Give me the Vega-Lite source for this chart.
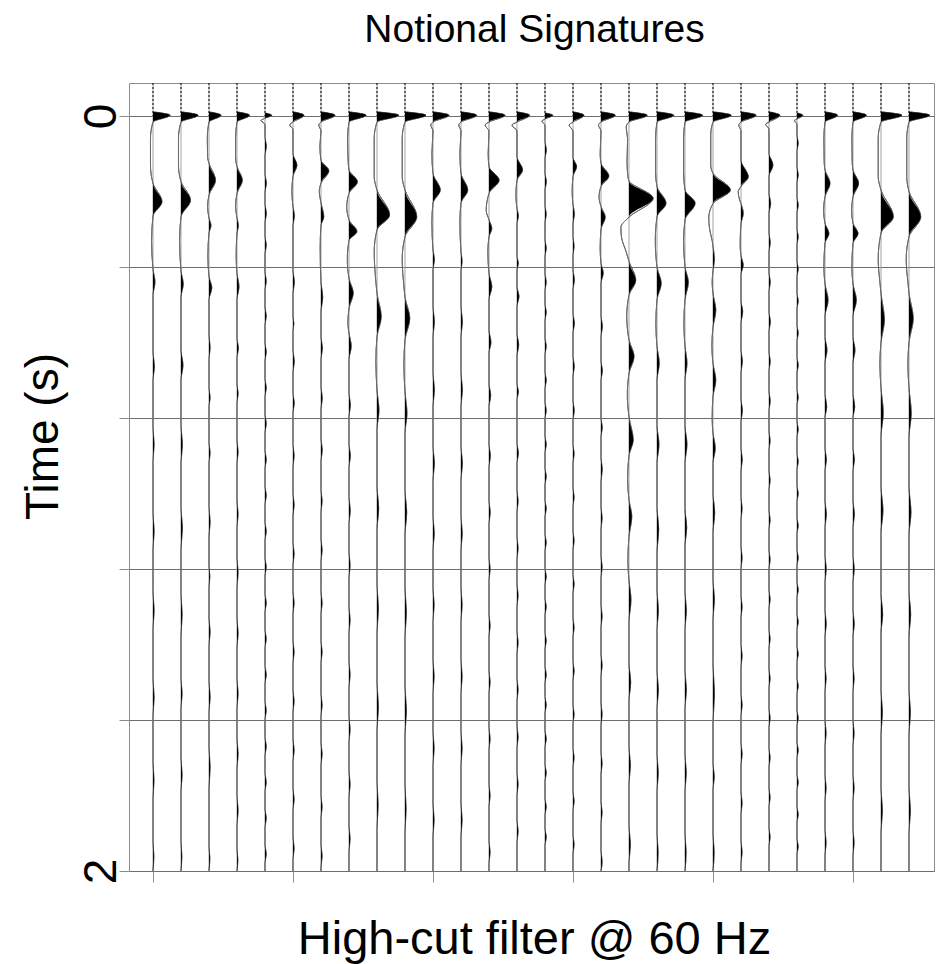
{
"$schema":"https://vega.github.io/schema/vega-lite/v6.json",
"width":805,"height":788,
"autosize":{"type":"none"},
"padding":{"left":129,"top":83,"right":12,"bottom":93},
"background":"white",
"config":{"font":"Liberation Sans","view":{"stroke":"#8c8c8c","strokeWidth":1},"axis":{"labelFont":"Liberation Sans","titleFont":"Liberation Sans"}},
"title":{"text":"Notional Signatures","fontSize":39,"fontWeight":"normal","font":"Liberation Sans","color":"black","anchor":"middle","frame":"group","baseline":"alphabetic","offset":2,"dx":3},
"datasets":{
"tr":[{"k":1},{"k":2},{"k":3},{"k":4},{"k":5},{"k":6},{"k":7},{"k":8},{"k":9},{"k":10},{"k":11},{"k":12},{"k":13},{"k":14},{"k":15},{"k":16},{"k":17},{"k":18},{"k":19},{"k":20},{"k":21},{"k":22},{"k":23},{"k":24},{"k":25},{"k":26},{"k":27},{"k":28}],
"w":[
{"k":1,"t":-0.011,"a":0},{"k":1,"t":-0.002,"a":0.61},{"k":1,"t":0.016,"a":0},{"k":1,"t":0.06,"a":-0.09},{"k":1,"t":0.13,"a":-0.09},{"k":1,"t":0.178,"a":0},{"k":1,"t":0.227,"a":0.32},{"k":1,"t":0.265,"a":0},{"k":1,"t":0.33,"a":-0.05},{"k":1,"t":0.405,"a":0},{"k":1,"t":0.44,"a":0.07},{"k":1,"t":0.475,"a":0},{"k":1,"t":0.625,"a":0},{"k":1,"t":0.664,"a":0.05},{"k":1,"t":0.7,"a":0},{"k":1,"t":0.825,"a":0},{"k":1,"t":0.87,"a":0.04},{"k":1,"t":0.915,"a":0},{"k":1,"t":1.05,"a":0},{"k":1,"t":1.1,"a":0.04},{"k":1,"t":1.15,"a":0},{"k":1,"t":1.26,"a":0},{"k":1,"t":1.31,"a":0.04},{"k":1,"t":1.36,"a":0},{"k":1,"t":1.49,"a":0},{"k":1,"t":1.54,"a":0.04},{"k":1,"t":1.59,"a":0},{"k":1,"t":1.71,"a":0},{"k":1,"t":1.76,"a":0.035},{"k":1,"t":1.81,"a":0},{"k":1,"t":1.92,"a":0},{"k":1,"t":1.96,"a":0.03},{"k":1,"t":2.0,"a":0},
{"k":2,"t":-0.011,"a":0},{"k":2,"t":-0.002,"a":0.61},{"k":2,"t":0.016,"a":0},{"k":2,"t":0.06,"a":-0.09},{"k":2,"t":0.13,"a":-0.09},{"k":2,"t":0.174,"a":0},{"k":2,"t":0.223,"a":0.34},{"k":2,"t":0.267,"a":0},{"k":2,"t":0.33,"a":-0.05},{"k":2,"t":0.41,"a":0},{"k":2,"t":0.445,"a":0.08},{"k":2,"t":0.48,"a":0},{"k":2,"t":0.62,"a":0},{"k":2,"t":0.66,"a":0.07},{"k":2,"t":0.7,"a":0},{"k":2,"t":0.82,"a":0},{"k":2,"t":0.87,"a":0.05},{"k":2,"t":0.92,"a":0},{"k":2,"t":1.04,"a":0},{"k":2,"t":1.09,"a":0.05},{"k":2,"t":1.15,"a":0},{"k":2,"t":1.265,"a":0},{"k":2,"t":1.32,"a":0.04},{"k":2,"t":1.38,"a":0},{"k":2,"t":1.49,"a":0},{"k":2,"t":1.53,"a":0.04},{"k":2,"t":1.57,"a":0},{"k":2,"t":1.7,"a":0},{"k":2,"t":1.745,"a":0.04},{"k":2,"t":1.79,"a":0},{"k":2,"t":1.92,"a":0},{"k":2,"t":1.96,"a":0.03},{"k":2,"t":2.0,"a":0},
{"k":3,"t":-0.011,"a":0},{"k":3,"t":-0.002,"a":0.43},{"k":3,"t":0.016,"a":0},{"k":3,"t":0.06,"a":-0.06},{"k":3,"t":0.11,"a":-0.05},{"k":3,"t":0.125,"a":0},{"k":3,"t":0.17,"a":0.23},{"k":3,"t":0.21,"a":0},{"k":3,"t":0.24,"a":-0.05},{"k":3,"t":0.27,"a":0},{"k":3,"t":0.29,"a":0.07},{"k":3,"t":0.31,"a":0},{"k":3,"t":0.37,"a":-0.04},{"k":3,"t":0.425,"a":0},{"k":3,"t":0.455,"a":0.1},{"k":3,"t":0.487,"a":0},{"k":3,"t":0.58,"a":0},{"k":3,"t":0.613,"a":0.04},{"k":3,"t":0.646,"a":0},{"k":3,"t":0.72,"a":0},{"k":3,"t":0.746,"a":0.04},{"k":3,"t":0.77,"a":0},{"k":3,"t":0.865,"a":0},{"k":3,"t":0.893,"a":0.04},{"k":3,"t":0.92,"a":0},{"k":3,"t":1.035,"a":0},{"k":3,"t":1.075,"a":0.04},{"k":3,"t":1.115,"a":0},{"k":3,"t":1.19,"a":0},{"k":3,"t":1.22,"a":0.03},{"k":3,"t":1.25,"a":0},{"k":3,"t":1.33,"a":0},{"k":3,"t":1.366,"a":0.04},{"k":3,"t":1.405,"a":0},{"k":3,"t":1.495,"a":0},{"k":3,"t":1.54,"a":0.04},{"k":3,"t":1.58,"a":0},{"k":3,"t":1.67,"a":0},{"k":3,"t":1.725,"a":0.04},{"k":3,"t":1.785,"a":0},{"k":3,"t":1.935,"a":0},{"k":3,"t":1.965,"a":0.03},{"k":3,"t":2.0,"a":0},
{"k":4,"t":-0.011,"a":0},{"k":4,"t":-0.002,"a":0.45},{"k":4,"t":0.016,"a":0},{"k":4,"t":0.06,"a":-0.05},{"k":4,"t":0.11,"a":-0.05},{"k":4,"t":0.134,"a":0},{"k":4,"t":0.17,"a":0.19},{"k":4,"t":0.205,"a":0},{"k":4,"t":0.24,"a":-0.05},{"k":4,"t":0.27,"a":0},{"k":4,"t":0.29,"a":0.05},{"k":4,"t":0.31,"a":0},{"k":4,"t":0.37,"a":-0.03},{"k":4,"t":0.417,"a":0},{"k":4,"t":0.452,"a":0.07},{"k":4,"t":0.487,"a":0},{"k":4,"t":0.59,"a":0},{"k":4,"t":0.615,"a":0.05},{"k":4,"t":0.64,"a":0},{"k":4,"t":0.71,"a":0},{"k":4,"t":0.735,"a":0.04},{"k":4,"t":0.76,"a":0},{"k":4,"t":0.858,"a":0},{"k":4,"t":0.89,"a":0.04},{"k":4,"t":0.92,"a":0},{"k":4,"t":1.02,"a":0},{"k":4,"t":1.055,"a":0.04},{"k":4,"t":1.09,"a":0},{"k":4,"t":1.17,"a":0},{"k":4,"t":1.21,"a":0.04},{"k":4,"t":1.25,"a":0},{"k":4,"t":1.33,"a":0},{"k":4,"t":1.37,"a":0.04},{"k":4,"t":1.41,"a":0},{"k":4,"t":1.49,"a":0},{"k":4,"t":1.53,"a":0.04},{"k":4,"t":1.57,"a":0},{"k":4,"t":1.65,"a":0},{"k":4,"t":1.69,"a":0.04},{"k":4,"t":1.73,"a":0},{"k":4,"t":1.8,"a":0},{"k":4,"t":1.84,"a":0.04},{"k":4,"t":1.88,"a":0},{"k":4,"t":1.94,"a":0},{"k":4,"t":1.97,"a":0.03},{"k":4,"t":2.0,"a":0},
{"k":5,"t":-0.008,"a":0},{"k":5,"t":-0.002,"a":0.24},{"k":5,"t":0.006,"a":0},{"k":5,"t":0.012,"a":-0.14},{"k":5,"t":0.022,"a":0},{"k":5,"t":0.056,"a":0},{"k":5,"t":0.08,"a":0.05},{"k":5,"t":0.104,"a":0},{"k":5,"t":0.154,"a":0},{"k":5,"t":0.178,"a":0.05},{"k":5,"t":0.202,"a":0},{"k":5,"t":0.234,"a":0},{"k":5,"t":0.258,"a":0.05},{"k":5,"t":0.282,"a":0},{"k":5,"t":0.318,"a":0},{"k":5,"t":0.342,"a":0.045},{"k":5,"t":0.366,"a":0},{"k":5,"t":0.413,"a":0},{"k":5,"t":0.437,"a":0.045},{"k":5,"t":0.461,"a":0},{"k":5,"t":0.506,"a":0},{"k":5,"t":0.53,"a":0.045},{"k":5,"t":0.554,"a":0},{"k":5,"t":0.601,"a":0},{"k":5,"t":0.625,"a":0.045},{"k":5,"t":0.649,"a":0},{"k":5,"t":0.696,"a":0},{"k":5,"t":0.72,"a":0.045},{"k":5,"t":0.744,"a":0},{"k":5,"t":0.791,"a":0},{"k":5,"t":0.815,"a":0.045},{"k":5,"t":0.839,"a":0},{"k":5,"t":0.886,"a":0},{"k":5,"t":0.91,"a":0.045},{"k":5,"t":0.934,"a":0},{"k":5,"t":0.981,"a":0},{"k":5,"t":1.005,"a":0.045},{"k":5,"t":1.029,"a":0},{"k":5,"t":1.076,"a":0},{"k":5,"t":1.1,"a":0.045},{"k":5,"t":1.124,"a":0},{"k":5,"t":1.171,"a":0},{"k":5,"t":1.195,"a":0.045},{"k":5,"t":1.219,"a":0},{"k":5,"t":1.266,"a":0},{"k":5,"t":1.29,"a":0.045},{"k":5,"t":1.314,"a":0},{"k":5,"t":1.361,"a":0},{"k":5,"t":1.385,"a":0.045},{"k":5,"t":1.409,"a":0},{"k":5,"t":1.456,"a":0},{"k":5,"t":1.48,"a":0.045},{"k":5,"t":1.504,"a":0},{"k":5,"t":1.551,"a":0},{"k":5,"t":1.575,"a":0.045},{"k":5,"t":1.599,"a":0},{"k":5,"t":1.646,"a":0},{"k":5,"t":1.67,"a":0.045},{"k":5,"t":1.694,"a":0},{"k":5,"t":1.741,"a":0},{"k":5,"t":1.765,"a":0.045},{"k":5,"t":1.789,"a":0},{"k":5,"t":1.836,"a":0},{"k":5,"t":1.86,"a":0.045},{"k":5,"t":1.884,"a":0},{"k":5,"t":1.931,"a":0},{"k":5,"t":1.955,"a":0.045},{"k":5,"t":1.979,"a":0},{"k":5,"t":2.0,"a":0},
{"k":6,"t":-0.011,"a":0},{"k":6,"t":-0.002,"a":0.39},{"k":6,"t":0.016,"a":0},{"k":6,"t":0.024,"a":-0.12},{"k":6,"t":0.035,"a":0},{"k":6,"t":0.1,"a":0},{"k":6,"t":0.13,"a":0.14},{"k":6,"t":0.16,"a":0},{"k":6,"t":0.2,"a":-0.04},{"k":6,"t":0.24,"a":0},{"k":6,"t":0.265,"a":0.05},{"k":6,"t":0.29,"a":0},{"k":6,"t":0.41,"a":0},{"k":6,"t":0.44,"a":0.05},{"k":6,"t":0.47,"a":0},{"k":6,"t":0.53,"a":0},{"k":6,"t":0.55,"a":0.03},{"k":6,"t":0.57,"a":0},{"k":6,"t":0.62,"a":0},{"k":6,"t":0.65,"a":0.045},{"k":6,"t":0.68,"a":0},{"k":6,"t":0.735,"a":0},{"k":6,"t":0.76,"a":0.045},{"k":6,"t":0.787,"a":0},{"k":6,"t":0.87,"a":0},{"k":6,"t":0.9,"a":0.04},{"k":6,"t":0.93,"a":0},{"k":6,"t":1.0,"a":0},{"k":6,"t":1.03,"a":0.04},{"k":6,"t":1.06,"a":0},{"k":6,"t":1.13,"a":0},{"k":6,"t":1.16,"a":0.04},{"k":6,"t":1.19,"a":0},{"k":6,"t":1.26,"a":0},{"k":6,"t":1.29,"a":0.04},{"k":6,"t":1.32,"a":0},{"k":6,"t":1.39,"a":0},{"k":6,"t":1.42,"a":0.04},{"k":6,"t":1.45,"a":0},{"k":6,"t":1.52,"a":0},{"k":6,"t":1.55,"a":0.04},{"k":6,"t":1.58,"a":0},{"k":6,"t":1.65,"a":0},{"k":6,"t":1.68,"a":0.04},{"k":6,"t":1.71,"a":0},{"k":6,"t":1.78,"a":0},{"k":6,"t":1.81,"a":0.04},{"k":6,"t":1.84,"a":0},{"k":6,"t":1.91,"a":0},{"k":6,"t":1.94,"a":0.04},{"k":6,"t":1.97,"a":0},{"k":6,"t":2.0,"a":0},
{"k":7,"t":-0.011,"a":0},{"k":7,"t":-0.002,"a":0.5},{"k":7,"t":0.016,"a":0},{"k":7,"t":0.024,"a":-0.08},{"k":7,"t":0.04,"a":0},{"k":7,"t":0.08,"a":-0.04},{"k":7,"t":0.117,"a":0},{"k":7,"t":0.145,"a":0.28},{"k":7,"t":0.178,"a":0},{"k":7,"t":0.2,"a":-0.06},{"k":7,"t":0.23,"a":0},{"k":7,"t":0.267,"a":0.1},{"k":7,"t":0.29,"a":0},{"k":7,"t":0.35,"a":-0.03},{"k":7,"t":0.44,"a":0},{"k":7,"t":0.48,"a":0.06},{"k":7,"t":0.52,"a":0},{"k":7,"t":0.585,"a":0},{"k":7,"t":0.615,"a":0.05},{"k":7,"t":0.645,"a":0},{"k":7,"t":0.717,"a":0},{"k":7,"t":0.747,"a":0.045},{"k":7,"t":0.777,"a":0},{"k":7,"t":0.855,"a":0},{"k":7,"t":0.885,"a":0.045},{"k":7,"t":0.915,"a":0},{"k":7,"t":0.99,"a":0},{"k":7,"t":1.02,"a":0.04},{"k":7,"t":1.05,"a":0},{"k":7,"t":1.12,"a":0},{"k":7,"t":1.15,"a":0.04},{"k":7,"t":1.18,"a":0},{"k":7,"t":1.26,"a":0},{"k":7,"t":1.29,"a":0.04},{"k":7,"t":1.32,"a":0},{"k":7,"t":1.39,"a":0},{"k":7,"t":1.42,"a":0.04},{"k":7,"t":1.45,"a":0},{"k":7,"t":1.53,"a":0},{"k":7,"t":1.56,"a":0.04},{"k":7,"t":1.59,"a":0},{"k":7,"t":1.66,"a":0},{"k":7,"t":1.69,"a":0.04},{"k":7,"t":1.72,"a":0},{"k":7,"t":1.8,"a":0},{"k":7,"t":1.83,"a":0.04},{"k":7,"t":1.86,"a":0},{"k":7,"t":1.93,"a":0},{"k":7,"t":1.96,"a":0.04},{"k":7,"t":1.99,"a":0},{"k":7,"t":2.0,"a":0},
{"k":8,"t":-0.011,"a":0},{"k":8,"t":-0.002,"a":0.61},{"k":8,"t":0.016,"a":0},{"k":8,"t":0.06,"a":-0.05},{"k":8,"t":0.12,"a":-0.03},{"k":8,"t":0.143,"a":0},{"k":8,"t":0.174,"a":0.3},{"k":8,"t":0.205,"a":0},{"k":8,"t":0.24,"a":-0.08},{"k":8,"t":0.275,"a":0},{"k":8,"t":0.306,"a":0.28},{"k":8,"t":0.33,"a":0},{"k":8,"t":0.38,"a":-0.06},{"k":8,"t":0.43,"a":0},{"k":8,"t":0.469,"a":0.15},{"k":8,"t":0.51,"a":0},{"k":8,"t":0.55,"a":-0.04},{"k":8,"t":0.575,"a":0},{"k":8,"t":0.61,"a":0.08},{"k":8,"t":0.645,"a":0},{"k":8,"t":0.735,"a":0},{"k":8,"t":0.765,"a":0.05},{"k":8,"t":0.797,"a":0},{"k":8,"t":0.87,"a":0},{"k":8,"t":0.9,"a":0.05},{"k":8,"t":0.93,"a":0},{"k":8,"t":1.01,"a":0},{"k":8,"t":1.045,"a":0.045},{"k":8,"t":1.08,"a":0},{"k":8,"t":1.155,"a":0},{"k":8,"t":1.19,"a":0.04},{"k":8,"t":1.225,"a":0},{"k":8,"t":1.3,"a":0},{"k":8,"t":1.335,"a":0.04},{"k":8,"t":1.37,"a":0},{"k":8,"t":1.445,"a":0},{"k":8,"t":1.48,"a":0.04},{"k":8,"t":1.515,"a":0},{"k":8,"t":1.59,"a":0},{"k":8,"t":1.625,"a":0.04},{"k":8,"t":1.66,"a":0},{"k":8,"t":1.735,"a":0},{"k":8,"t":1.77,"a":0.04},{"k":8,"t":1.805,"a":0},{"k":8,"t":1.88,"a":0},{"k":8,"t":1.915,"a":0.04},{"k":8,"t":1.95,"a":0},{"k":8,"t":2.0,"a":0},
{"k":9,"t":-0.011,"a":0},{"k":9,"t":-0.002,"a":0.78},{"k":9,"t":0.016,"a":0},{"k":9,"t":0.06,"a":-0.1},{"k":9,"t":0.16,"a":-0.1},{"k":9,"t":0.196,"a":0},{"k":9,"t":0.262,"a":0.45},{"k":9,"t":0.302,"a":0},{"k":9,"t":0.36,"a":-0.1},{"k":9,"t":0.44,"a":-0.04},{"k":9,"t":0.47,"a":0},{"k":9,"t":0.531,"a":0.15},{"k":9,"t":0.585,"a":0},{"k":9,"t":0.65,"a":-0.04},{"k":9,"t":0.726,"a":0},{"k":9,"t":0.78,"a":0.07},{"k":9,"t":0.83,"a":0},{"k":9,"t":0.98,"a":0},{"k":9,"t":1.04,"a":0.06},{"k":9,"t":1.096,"a":0},{"k":9,"t":1.24,"a":0},{"k":9,"t":1.305,"a":0.05},{"k":9,"t":1.37,"a":0},{"k":9,"t":1.5,"a":0},{"k":9,"t":1.565,"a":0.05},{"k":9,"t":1.63,"a":0},{"k":9,"t":1.76,"a":0},{"k":9,"t":1.825,"a":0.04},{"k":9,"t":1.89,"a":0},{"k":9,"t":2.0,"a":0},
{"k":10,"t":-0.011,"a":0},{"k":10,"t":-0.002,"a":0.75},{"k":10,"t":0.016,"a":0},{"k":10,"t":0.06,"a":-0.1},{"k":10,"t":0.16,"a":-0.1},{"k":10,"t":0.196,"a":0},{"k":10,"t":0.267,"a":0.42},{"k":10,"t":0.32,"a":0},{"k":10,"t":0.38,"a":-0.1},{"k":10,"t":0.45,"a":-0.04},{"k":10,"t":0.48,"a":0},{"k":10,"t":0.536,"a":0.17},{"k":10,"t":0.593,"a":0},{"k":10,"t":0.66,"a":-0.04},{"k":10,"t":0.73,"a":0},{"k":10,"t":0.788,"a":0.07},{"k":10,"t":0.84,"a":0},{"k":10,"t":0.99,"a":0},{"k":10,"t":1.05,"a":0.06},{"k":10,"t":1.11,"a":0},{"k":10,"t":1.25,"a":0},{"k":10,"t":1.315,"a":0.05},{"k":10,"t":1.38,"a":0},{"k":10,"t":1.51,"a":0},{"k":10,"t":1.575,"a":0.05},{"k":10,"t":1.64,"a":0},{"k":10,"t":1.77,"a":0},{"k":10,"t":1.835,"a":0.04},{"k":10,"t":1.9,"a":0},{"k":10,"t":2.0,"a":0},
{"k":11,"t":-0.011,"a":0},{"k":11,"t":-0.002,"a":0.57},{"k":11,"t":0.016,"a":0},{"k":11,"t":0.024,"a":-0.08},{"k":11,"t":0.04,"a":0},{"k":11,"t":0.1,"a":-0.04},{"k":11,"t":0.152,"a":0},{"k":11,"t":0.196,"a":0.26},{"k":11,"t":0.231,"a":0},{"k":11,"t":0.28,"a":-0.04},{"k":11,"t":0.355,"a":0},{"k":11,"t":0.38,"a":0.05},{"k":11,"t":0.408,"a":0},{"k":11,"t":0.505,"a":0},{"k":11,"t":0.545,"a":0.05},{"k":11,"t":0.585,"a":0},{"k":11,"t":0.68,"a":0},{"k":11,"t":0.725,"a":0.05},{"k":11,"t":0.77,"a":0},{"k":11,"t":0.876,"a":0},{"k":11,"t":0.92,"a":0.05},{"k":11,"t":0.965,"a":0},{"k":11,"t":1.06,"a":0},{"k":11,"t":1.105,"a":0.045},{"k":11,"t":1.15,"a":0},{"k":11,"t":1.25,"a":0},{"k":11,"t":1.295,"a":0.04},{"k":11,"t":1.34,"a":0},{"k":11,"t":1.44,"a":0},{"k":11,"t":1.485,"a":0.04},{"k":11,"t":1.53,"a":0},{"k":11,"t":1.63,"a":0},{"k":11,"t":1.675,"a":0.04},{"k":11,"t":1.72,"a":0},{"k":11,"t":1.82,"a":0},{"k":11,"t":1.865,"a":0.04},{"k":11,"t":1.91,"a":0},{"k":11,"t":2.0,"a":0},
{"k":12,"t":-0.011,"a":0},{"k":12,"t":-0.002,"a":0.56},{"k":12,"t":0.016,"a":0},{"k":12,"t":0.024,"a":-0.08},{"k":12,"t":0.04,"a":0},{"k":12,"t":0.1,"a":-0.04},{"k":12,"t":0.152,"a":0},{"k":12,"t":0.196,"a":0.24},{"k":12,"t":0.231,"a":0},{"k":12,"t":0.28,"a":-0.04},{"k":12,"t":0.36,"a":0},{"k":12,"t":0.385,"a":0.04},{"k":12,"t":0.41,"a":0},{"k":12,"t":0.505,"a":0},{"k":12,"t":0.545,"a":0.05},{"k":12,"t":0.585,"a":0},{"k":12,"t":0.68,"a":0},{"k":12,"t":0.725,"a":0.05},{"k":12,"t":0.77,"a":0},{"k":12,"t":0.876,"a":0},{"k":12,"t":0.92,"a":0.05},{"k":12,"t":0.965,"a":0},{"k":12,"t":1.06,"a":0},{"k":12,"t":1.105,"a":0.045},{"k":12,"t":1.15,"a":0},{"k":12,"t":1.25,"a":0},{"k":12,"t":1.295,"a":0.04},{"k":12,"t":1.34,"a":0},{"k":12,"t":1.44,"a":0},{"k":12,"t":1.485,"a":0.04},{"k":12,"t":1.53,"a":0},{"k":12,"t":1.63,"a":0},{"k":12,"t":1.675,"a":0.04},{"k":12,"t":1.72,"a":0},{"k":12,"t":1.82,"a":0},{"k":12,"t":1.865,"a":0.04},{"k":12,"t":1.91,"a":0},{"k":12,"t":2.0,"a":0},
{"k":13,"t":-0.011,"a":0},{"k":13,"t":-0.002,"a":0.57},{"k":13,"t":0.016,"a":0},{"k":13,"t":0.024,"a":-0.14},{"k":13,"t":0.04,"a":0},{"k":13,"t":0.1,"a":-0.03},{"k":13,"t":0.134,"a":0},{"k":13,"t":0.17,"a":0.36},{"k":13,"t":0.205,"a":0},{"k":13,"t":0.25,"a":-0.1},{"k":13,"t":0.275,"a":0},{"k":13,"t":0.298,"a":0.1},{"k":13,"t":0.32,"a":0},{"k":13,"t":0.36,"a":-0.04},{"k":13,"t":0.417,"a":0},{"k":13,"t":0.452,"a":0.1},{"k":13,"t":0.487,"a":0},{"k":13,"t":0.567,"a":0},{"k":13,"t":0.6,"a":0.07},{"k":13,"t":0.628,"a":0},{"k":13,"t":0.71,"a":0},{"k":13,"t":0.74,"a":0.06},{"k":13,"t":0.77,"a":0},{"k":13,"t":0.87,"a":0},{"k":13,"t":0.9,"a":0.05},{"k":13,"t":0.93,"a":0},{"k":13,"t":1.02,"a":0},{"k":13,"t":1.05,"a":0.045},{"k":13,"t":1.08,"a":0},{"k":13,"t":1.17,"a":0},{"k":13,"t":1.2,"a":0.04},{"k":13,"t":1.23,"a":0},{"k":13,"t":1.32,"a":0},{"k":13,"t":1.35,"a":0.04},{"k":13,"t":1.38,"a":0},{"k":13,"t":1.47,"a":0},{"k":13,"t":1.5,"a":0.04},{"k":13,"t":1.53,"a":0},{"k":13,"t":1.62,"a":0},{"k":13,"t":1.65,"a":0.04},{"k":13,"t":1.68,"a":0},{"k":13,"t":1.77,"a":0},{"k":13,"t":1.8,"a":0.04},{"k":13,"t":1.83,"a":0},{"k":13,"t":1.92,"a":0},{"k":13,"t":1.95,"a":0.04},{"k":13,"t":1.98,"a":0},{"k":13,"t":2.0,"a":0},
{"k":14,"t":-0.011,"a":0},{"k":14,"t":-0.002,"a":0.45},{"k":14,"t":0.016,"a":0},{"k":14,"t":0.024,"a":-0.18},{"k":14,"t":0.04,"a":0},{"k":14,"t":0.108,"a":0},{"k":14,"t":0.143,"a":0.2},{"k":14,"t":0.17,"a":0},{"k":14,"t":0.21,"a":-0.04},{"k":14,"t":0.245,"a":0},{"k":14,"t":0.265,"a":0.05},{"k":14,"t":0.285,"a":0},{"k":14,"t":0.373,"a":0},{"k":14,"t":0.39,"a":0.05},{"k":14,"t":0.408,"a":0},{"k":14,"t":0.452,"a":0},{"k":14,"t":0.478,"a":0.07},{"k":14,"t":0.505,"a":0},{"k":14,"t":0.576,"a":0},{"k":14,"t":0.606,"a":0.06},{"k":14,"t":0.637,"a":0},{"k":14,"t":0.71,"a":0},{"k":14,"t":0.73,"a":0.05},{"k":14,"t":0.752,"a":0},{"k":14,"t":0.867,"a":0},{"k":14,"t":0.893,"a":0.05},{"k":14,"t":0.92,"a":0},{"k":14,"t":0.99,"a":0},{"k":14,"t":1.02,"a":0.04},{"k":14,"t":1.05,"a":0},{"k":14,"t":1.115,"a":0},{"k":14,"t":1.145,"a":0.04},{"k":14,"t":1.175,"a":0},{"k":14,"t":1.24,"a":0},{"k":14,"t":1.27,"a":0.04},{"k":14,"t":1.3,"a":0},{"k":14,"t":1.365,"a":0},{"k":14,"t":1.395,"a":0.04},{"k":14,"t":1.425,"a":0},{"k":14,"t":1.49,"a":0},{"k":14,"t":1.52,"a":0.04},{"k":14,"t":1.55,"a":0},{"k":14,"t":1.615,"a":0},{"k":14,"t":1.645,"a":0.04},{"k":14,"t":1.675,"a":0},{"k":14,"t":1.74,"a":0},{"k":14,"t":1.77,"a":0.04},{"k":14,"t":1.8,"a":0},{"k":14,"t":1.865,"a":0},{"k":14,"t":1.895,"a":0.04},{"k":14,"t":1.925,"a":0},{"k":14,"t":2.0,"a":0},
{"k":15,"t":-0.008,"a":0},{"k":15,"t":-0.002,"a":0.28},{"k":15,"t":0.008,"a":0},{"k":15,"t":0.014,"a":-0.11},{"k":15,"t":0.024,"a":0},{"k":15,"t":0.068,"a":0},{"k":15,"t":0.09,"a":0.05},{"k":15,"t":0.112,"a":0},{"k":15,"t":0.152,"a":0},{"k":15,"t":0.174,"a":0.05},{"k":15,"t":0.196,"a":0},{"k":15,"t":0.238,"a":0},{"k":15,"t":0.26,"a":0.045},{"k":15,"t":0.282,"a":0},{"k":15,"t":0.328,"a":0},{"k":15,"t":0.35,"a":0.045},{"k":15,"t":0.372,"a":0},{"k":15,"t":0.418,"a":0},{"k":15,"t":0.44,"a":0.045},{"k":15,"t":0.462,"a":0},{"k":15,"t":0.498,"a":0},{"k":15,"t":0.52,"a":0.045},{"k":15,"t":0.542,"a":0},{"k":15,"t":0.588,"a":0},{"k":15,"t":0.61,"a":0.045},{"k":15,"t":0.632,"a":0},{"k":15,"t":0.678,"a":0},{"k":15,"t":0.7,"a":0.045},{"k":15,"t":0.722,"a":0},{"k":15,"t":0.758,"a":0},{"k":15,"t":0.78,"a":0.045},{"k":15,"t":0.802,"a":0},{"k":15,"t":0.848,"a":0},{"k":15,"t":0.87,"a":0.045},{"k":15,"t":0.892,"a":0},{"k":15,"t":0.933,"a":0},{"k":15,"t":0.955,"a":0.045},{"k":15,"t":0.977,"a":0},{"k":15,"t":1.018,"a":0},{"k":15,"t":1.04,"a":0.045},{"k":15,"t":1.062,"a":0},{"k":15,"t":1.108,"a":0},{"k":15,"t":1.13,"a":0.045},{"k":15,"t":1.152,"a":0},{"k":15,"t":1.198,"a":0},{"k":15,"t":1.22,"a":0.045},{"k":15,"t":1.242,"a":0},{"k":15,"t":1.278,"a":0},{"k":15,"t":1.3,"a":0.045},{"k":15,"t":1.322,"a":0},{"k":15,"t":1.368,"a":0},{"k":15,"t":1.39,"a":0.045},{"k":15,"t":1.412,"a":0},{"k":15,"t":1.458,"a":0},{"k":15,"t":1.48,"a":0.045},{"k":15,"t":1.502,"a":0},{"k":15,"t":1.538,"a":0},{"k":15,"t":1.56,"a":0.045},{"k":15,"t":1.582,"a":0},{"k":15,"t":1.628,"a":0},{"k":15,"t":1.65,"a":0.045},{"k":15,"t":1.672,"a":0},{"k":15,"t":1.718,"a":0},{"k":15,"t":1.74,"a":0.045},{"k":15,"t":1.762,"a":0},{"k":15,"t":1.808,"a":0},{"k":15,"t":1.83,"a":0.045},{"k":15,"t":1.852,"a":0},{"k":15,"t":1.888,"a":0},{"k":15,"t":1.91,"a":0.045},{"k":15,"t":1.932,"a":0},{"k":15,"t":2.0,"a":0},
{"k":16,"t":-0.011,"a":0},{"k":16,"t":-0.002,"a":0.39},{"k":16,"t":0.016,"a":0},{"k":16,"t":0.024,"a":-0.14},{"k":16,"t":0.04,"a":0},{"k":16,"t":0.11,"a":0},{"k":16,"t":0.134,"a":0.13},{"k":16,"t":0.16,"a":0},{"k":16,"t":0.2,"a":-0.03},{"k":16,"t":0.235,"a":0},{"k":16,"t":0.26,"a":0.05},{"k":16,"t":0.285,"a":0},{"k":16,"t":0.32,"a":0},{"k":16,"t":0.345,"a":0.04},{"k":16,"t":0.37,"a":0},{"k":16,"t":0.408,"a":0},{"k":16,"t":0.434,"a":0.05},{"k":16,"t":0.46,"a":0},{"k":16,"t":0.523,"a":0},{"k":16,"t":0.549,"a":0.05},{"k":16,"t":0.575,"a":0},{"k":16,"t":0.637,"a":0},{"k":16,"t":0.663,"a":0.045},{"k":16,"t":0.69,"a":0},{"k":16,"t":0.755,"a":0},{"k":16,"t":0.78,"a":0.045},{"k":16,"t":0.805,"a":0},{"k":16,"t":0.87,"a":0},{"k":16,"t":0.895,"a":0.04},{"k":16,"t":0.92,"a":0},{"k":16,"t":0.985,"a":0},{"k":16,"t":1.01,"a":0.04},{"k":16,"t":1.035,"a":0},{"k":16,"t":1.1,"a":0},{"k":16,"t":1.125,"a":0.04},{"k":16,"t":1.15,"a":0},{"k":16,"t":1.215,"a":0},{"k":16,"t":1.24,"a":0.04},{"k":16,"t":1.265,"a":0},{"k":16,"t":1.33,"a":0},{"k":16,"t":1.355,"a":0.04},{"k":16,"t":1.38,"a":0},{"k":16,"t":1.445,"a":0},{"k":16,"t":1.47,"a":0.04},{"k":16,"t":1.495,"a":0},{"k":16,"t":1.56,"a":0},{"k":16,"t":1.585,"a":0.04},{"k":16,"t":1.61,"a":0},{"k":16,"t":1.675,"a":0},{"k":16,"t":1.7,"a":0.04},{"k":16,"t":1.725,"a":0},{"k":16,"t":1.79,"a":0},{"k":16,"t":1.815,"a":0.04},{"k":16,"t":1.84,"a":0},{"k":16,"t":1.905,"a":0},{"k":16,"t":1.93,"a":0.04},{"k":16,"t":1.955,"a":0},{"k":16,"t":2.0,"a":0},
{"k":17,"t":-0.011,"a":0},{"k":17,"t":-0.002,"a":0.51},{"k":17,"t":0.016,"a":0},{"k":17,"t":0.024,"a":-0.09},{"k":17,"t":0.04,"a":0},{"k":17,"t":0.1,"a":-0.03},{"k":17,"t":0.125,"a":0},{"k":17,"t":0.159,"a":0.28},{"k":17,"t":0.187,"a":0},{"k":17,"t":0.215,"a":-0.07},{"k":17,"t":0.24,"a":0},{"k":17,"t":0.268,"a":0.15},{"k":17,"t":0.3,"a":0},{"k":17,"t":0.35,"a":-0.03},{"k":17,"t":0.39,"a":0},{"k":17,"t":0.416,"a":0.08},{"k":17,"t":0.443,"a":0},{"k":17,"t":0.53,"a":0},{"k":17,"t":0.557,"a":0.05},{"k":17,"t":0.585,"a":0},{"k":17,"t":0.65,"a":0},{"k":17,"t":0.675,"a":0.05},{"k":17,"t":0.7,"a":0},{"k":17,"t":0.8,"a":0},{"k":17,"t":0.825,"a":0.045},{"k":17,"t":0.85,"a":0},{"k":17,"t":0.905,"a":0},{"k":17,"t":0.935,"a":0.045},{"k":17,"t":0.97,"a":0},{"k":17,"t":1.035,"a":0},{"k":17,"t":1.065,"a":0.04},{"k":17,"t":1.095,"a":0},{"k":17,"t":1.165,"a":0},{"k":17,"t":1.195,"a":0.04},{"k":17,"t":1.225,"a":0},{"k":17,"t":1.295,"a":0},{"k":17,"t":1.325,"a":0.04},{"k":17,"t":1.355,"a":0},{"k":17,"t":1.425,"a":0},{"k":17,"t":1.455,"a":0.04},{"k":17,"t":1.485,"a":0},{"k":17,"t":1.555,"a":0},{"k":17,"t":1.585,"a":0.04},{"k":17,"t":1.615,"a":0},{"k":17,"t":1.685,"a":0},{"k":17,"t":1.715,"a":0.04},{"k":17,"t":1.745,"a":0},{"k":17,"t":1.815,"a":0},{"k":17,"t":1.845,"a":0.04},{"k":17,"t":1.875,"a":0},{"k":17,"t":1.945,"a":0},{"k":17,"t":1.975,"a":0.04},{"k":17,"t":2.0,"a":0},
{"k":18,"t":-0.011,"a":0},{"k":18,"t":-0.002,"a":0.65},{"k":18,"t":0.016,"a":0},{"k":18,"t":0.03,"a":-0.1},{"k":18,"t":0.06,"a":-0.05},{"k":18,"t":0.12,"a":-0.07},{"k":18,"t":0.16,"a":-0.04},{"k":18,"t":0.172,"a":0},{"k":18,"t":0.218,"a":0.86},{"k":18,"t":0.268,"a":0},{"k":18,"t":0.295,"a":-0.29},{"k":18,"t":0.32,"a":-0.27},{"k":18,"t":0.36,"a":-0.1},{"k":18,"t":0.385,"a":0},{"k":18,"t":0.435,"a":0.24},{"k":18,"t":0.475,"a":0},{"k":18,"t":0.53,"a":-0.08},{"k":18,"t":0.593,"a":0},{"k":18,"t":0.637,"a":0.18},{"k":18,"t":0.682,"a":0},{"k":18,"t":0.74,"a":-0.06},{"k":18,"t":0.797,"a":0},{"k":18,"t":0.858,"a":0.15},{"k":18,"t":0.9,"a":0},{"k":18,"t":0.96,"a":-0.05},{"k":18,"t":1.017,"a":0},{"k":18,"t":1.061,"a":0.1},{"k":18,"t":1.114,"a":0},{"k":18,"t":1.18,"a":-0.04},{"k":18,"t":1.23,"a":0},{"k":18,"t":1.282,"a":0.07},{"k":18,"t":1.34,"a":0},{"k":18,"t":1.45,"a":0},{"k":18,"t":1.5,"a":0.06},{"k":18,"t":1.55,"a":0},{"k":18,"t":1.67,"a":0},{"k":18,"t":1.72,"a":0.05},{"k":18,"t":1.77,"a":0},{"k":18,"t":1.88,"a":0},{"k":18,"t":1.93,"a":0.05},{"k":18,"t":1.98,"a":0},{"k":18,"t":2.0,"a":0},
{"k":19,"t":-0.011,"a":0},{"k":19,"t":-0.002,"a":0.6},{"k":19,"t":0.016,"a":0},{"k":19,"t":0.06,"a":-0.05},{"k":19,"t":0.15,"a":-0.05},{"k":19,"t":0.187,"a":0},{"k":19,"t":0.231,"a":0.32},{"k":19,"t":0.267,"a":0},{"k":19,"t":0.33,"a":-0.06},{"k":19,"t":0.4,"a":0},{"k":19,"t":0.443,"a":0.15},{"k":19,"t":0.487,"a":0},{"k":19,"t":0.55,"a":-0.04},{"k":19,"t":0.61,"a":0},{"k":19,"t":0.655,"a":0.08},{"k":19,"t":0.7,"a":0},{"k":19,"t":0.82,"a":0},{"k":19,"t":0.87,"a":0.07},{"k":19,"t":0.92,"a":0},{"k":19,"t":1.035,"a":0},{"k":19,"t":1.095,"a":0.06},{"k":19,"t":1.158,"a":0},{"k":19,"t":1.255,"a":0},{"k":19,"t":1.31,"a":0.05},{"k":19,"t":1.36,"a":0},{"k":19,"t":1.47,"a":0},{"k":19,"t":1.52,"a":0.05},{"k":19,"t":1.57,"a":0},{"k":19,"t":1.69,"a":0},{"k":19,"t":1.74,"a":0.045},{"k":19,"t":1.79,"a":0},{"k":19,"t":1.9,"a":0},{"k":19,"t":1.95,"a":0.04},{"k":19,"t":2.0,"a":0},
{"k":20,"t":-0.011,"a":0},{"k":20,"t":-0.002,"a":0.63},{"k":20,"t":0.016,"a":0},{"k":20,"t":0.06,"a":-0.05},{"k":20,"t":0.15,"a":-0.05},{"k":20,"t":0.196,"a":0},{"k":20,"t":0.231,"a":0.36},{"k":20,"t":0.275,"a":0},{"k":20,"t":0.33,"a":-0.05},{"k":20,"t":0.4,"a":0},{"k":20,"t":0.44,"a":0.12},{"k":20,"t":0.487,"a":0},{"k":20,"t":0.55,"a":-0.04},{"k":20,"t":0.61,"a":0},{"k":20,"t":0.655,"a":0.07},{"k":20,"t":0.7,"a":0},{"k":20,"t":0.82,"a":0},{"k":20,"t":0.87,"a":0.07},{"k":20,"t":0.92,"a":0},{"k":20,"t":1.04,"a":0},{"k":20,"t":1.09,"a":0.06},{"k":20,"t":1.14,"a":0},{"k":20,"t":1.26,"a":0},{"k":20,"t":1.31,"a":0.05},{"k":20,"t":1.36,"a":0},{"k":20,"t":1.47,"a":0},{"k":20,"t":1.52,"a":0.05},{"k":20,"t":1.57,"a":0},{"k":20,"t":1.69,"a":0},{"k":20,"t":1.74,"a":0.045},{"k":20,"t":1.79,"a":0},{"k":20,"t":1.9,"a":0},{"k":20,"t":1.95,"a":0.04},{"k":20,"t":2.0,"a":0},
{"k":21,"t":-0.011,"a":0},{"k":21,"t":-0.002,"a":0.65},{"k":21,"t":0.016,"a":0},{"k":21,"t":0.05,"a":-0.08},{"k":21,"t":0.13,"a":-0.08},{"k":21,"t":0.152,"a":0},{"k":21,"t":0.196,"a":0.62},{"k":21,"t":0.232,"a":0},{"k":21,"t":0.27,"a":-0.15},{"k":21,"t":0.3,"a":-0.12},{"k":21,"t":0.33,"a":-0.03},{"k":21,"t":0.345,"a":0},{"k":21,"t":0.38,"a":0.05},{"k":21,"t":0.41,"a":0},{"k":21,"t":0.44,"a":-0.03},{"k":21,"t":0.47,"a":0},{"k":21,"t":0.514,"a":0.1},{"k":21,"t":0.56,"a":0},{"k":21,"t":0.61,"a":-0.04},{"k":21,"t":0.655,"a":0},{"k":21,"t":0.7,"a":0.1},{"k":21,"t":0.743,"a":0},{"k":21,"t":0.8,"a":-0.03},{"k":21,"t":0.84,"a":0},{"k":21,"t":0.88,"a":0.08},{"k":21,"t":0.92,"a":0},{"k":21,"t":1.0,"a":0},{"k":21,"t":1.05,"a":0.06},{"k":21,"t":1.105,"a":0},{"k":21,"t":1.23,"a":0},{"k":21,"t":1.28,"a":0.05},{"k":21,"t":1.335,"a":0},{"k":21,"t":1.45,"a":0},{"k":21,"t":1.53,"a":0.05},{"k":21,"t":1.61,"a":0},{"k":21,"t":1.715,"a":0},{"k":21,"t":1.75,"a":0.045},{"k":21,"t":1.785,"a":0},{"k":21,"t":1.9,"a":0},{"k":21,"t":1.95,"a":0.04},{"k":21,"t":2.0,"a":0},
{"k":22,"t":-0.011,"a":0},{"k":22,"t":-0.002,"a":0.54},{"k":22,"t":0.016,"a":0},{"k":22,"t":0.024,"a":-0.08},{"k":22,"t":0.04,"a":0},{"k":22,"t":0.117,"a":0},{"k":22,"t":0.161,"a":0.26},{"k":22,"t":0.187,"a":0},{"k":22,"t":0.2,"a":-0.1},{"k":22,"t":0.222,"a":-0.05},{"k":22,"t":0.232,"a":0},{"k":22,"t":0.258,"a":0.08},{"k":22,"t":0.285,"a":0},{"k":22,"t":0.34,"a":-0.03},{"k":22,"t":0.37,"a":0},{"k":22,"t":0.395,"a":0.08},{"k":22,"t":0.42,"a":0},{"k":22,"t":0.49,"a":0},{"k":22,"t":0.518,"a":0.06},{"k":22,"t":0.55,"a":0},{"k":22,"t":0.62,"a":0},{"k":22,"t":0.65,"a":0.05},{"k":22,"t":0.68,"a":0},{"k":22,"t":0.75,"a":0},{"k":22,"t":0.78,"a":0.05},{"k":22,"t":0.81,"a":0},{"k":22,"t":0.88,"a":0},{"k":22,"t":0.91,"a":0.045},{"k":22,"t":0.94,"a":0},{"k":22,"t":1.01,"a":0},{"k":22,"t":1.04,"a":0.04},{"k":22,"t":1.07,"a":0},{"k":22,"t":1.14,"a":0},{"k":22,"t":1.17,"a":0.04},{"k":22,"t":1.2,"a":0},{"k":22,"t":1.27,"a":0},{"k":22,"t":1.3,"a":0.04},{"k":22,"t":1.33,"a":0},{"k":22,"t":1.4,"a":0},{"k":22,"t":1.43,"a":0.04},{"k":22,"t":1.46,"a":0},{"k":22,"t":1.53,"a":0},{"k":22,"t":1.56,"a":0.04},{"k":22,"t":1.59,"a":0},{"k":22,"t":1.66,"a":0},{"k":22,"t":1.69,"a":0.04},{"k":22,"t":1.72,"a":0},{"k":22,"t":1.79,"a":0},{"k":22,"t":1.82,"a":0.04},{"k":22,"t":1.85,"a":0},{"k":22,"t":1.92,"a":0},{"k":22,"t":1.95,"a":0.04},{"k":22,"t":1.98,"a":0},{"k":22,"t":2.0,"a":0},
{"k":23,"t":-0.011,"a":0},{"k":23,"t":-0.002,"a":0.39},{"k":23,"t":0.016,"a":0},{"k":23,"t":0.022,"a":-0.12},{"k":23,"t":0.035,"a":0},{"k":23,"t":0.099,"a":0},{"k":23,"t":0.13,"a":0.14},{"k":23,"t":0.16,"a":0},{"k":23,"t":0.205,"a":0},{"k":23,"t":0.231,"a":0.06},{"k":23,"t":0.258,"a":0},{"k":23,"t":0.31,"a":0},{"k":23,"t":0.335,"a":0.045},{"k":23,"t":0.36,"a":0},{"k":23,"t":0.415,"a":0},{"k":23,"t":0.44,"a":0.045},{"k":23,"t":0.465,"a":0},{"k":23,"t":0.52,"a":0},{"k":23,"t":0.545,"a":0.05},{"k":23,"t":0.57,"a":0},{"k":23,"t":0.625,"a":0},{"k":23,"t":0.65,"a":0.045},{"k":23,"t":0.675,"a":0},{"k":23,"t":0.73,"a":0},{"k":23,"t":0.755,"a":0.045},{"k":23,"t":0.78,"a":0},{"k":23,"t":0.835,"a":0},{"k":23,"t":0.86,"a":0.04},{"k":23,"t":0.885,"a":0},{"k":23,"t":0.94,"a":0},{"k":23,"t":0.965,"a":0.04},{"k":23,"t":0.99,"a":0},{"k":23,"t":1.045,"a":0},{"k":23,"t":1.07,"a":0.04},{"k":23,"t":1.095,"a":0},{"k":23,"t":1.15,"a":0},{"k":23,"t":1.175,"a":0.04},{"k":23,"t":1.2,"a":0},{"k":23,"t":1.255,"a":0},{"k":23,"t":1.28,"a":0.04},{"k":23,"t":1.305,"a":0},{"k":23,"t":1.36,"a":0},{"k":23,"t":1.385,"a":0.04},{"k":23,"t":1.41,"a":0},{"k":23,"t":1.465,"a":0},{"k":23,"t":1.49,"a":0.04},{"k":23,"t":1.515,"a":0},{"k":23,"t":1.57,"a":0},{"k":23,"t":1.595,"a":0.04},{"k":23,"t":1.62,"a":0},{"k":23,"t":1.675,"a":0},{"k":23,"t":1.7,"a":0.04},{"k":23,"t":1.725,"a":0},{"k":23,"t":1.78,"a":0},{"k":23,"t":1.805,"a":0.04},{"k":23,"t":1.83,"a":0},{"k":23,"t":1.885,"a":0},{"k":23,"t":1.91,"a":0.04},{"k":23,"t":1.935,"a":0},{"k":23,"t":2.0,"a":0},
{"k":24,"t":-0.008,"a":0},{"k":24,"t":-0.002,"a":0.21},{"k":24,"t":0.008,"a":0},{"k":24,"t":0.012,"a":-0.09},{"k":24,"t":0.022,"a":0},{"k":24,"t":0.052,"a":0},{"k":24,"t":0.072,"a":0.045},{"k":24,"t":0.092,"a":0},{"k":24,"t":0.136,"a":0},{"k":24,"t":0.156,"a":0.045},{"k":24,"t":0.176,"a":0},{"k":24,"t":0.216,"a":0},{"k":24,"t":0.236,"a":0.045},{"k":24,"t":0.256,"a":0},{"k":24,"t":0.3,"a":0},{"k":24,"t":0.32,"a":0.045},{"k":24,"t":0.34,"a":0},{"k":24,"t":0.385,"a":0},{"k":24,"t":0.405,"a":0.045},{"k":24,"t":0.425,"a":0},{"k":24,"t":0.47,"a":0},{"k":24,"t":0.49,"a":0.045},{"k":24,"t":0.51,"a":0},{"k":24,"t":0.555,"a":0},{"k":24,"t":0.575,"a":0.045},{"k":24,"t":0.595,"a":0},{"k":24,"t":0.64,"a":0},{"k":24,"t":0.66,"a":0.045},{"k":24,"t":0.68,"a":0},{"k":24,"t":0.725,"a":0},{"k":24,"t":0.745,"a":0.045},{"k":24,"t":0.765,"a":0},{"k":24,"t":0.81,"a":0},{"k":24,"t":0.83,"a":0.045},{"k":24,"t":0.85,"a":0},{"k":24,"t":0.895,"a":0},{"k":24,"t":0.915,"a":0.045},{"k":24,"t":0.935,"a":0},{"k":24,"t":0.98,"a":0},{"k":24,"t":1.0,"a":0.045},{"k":24,"t":1.02,"a":0},{"k":24,"t":1.065,"a":0},{"k":24,"t":1.085,"a":0.045},{"k":24,"t":1.105,"a":0},{"k":24,"t":1.15,"a":0},{"k":24,"t":1.17,"a":0.045},{"k":24,"t":1.19,"a":0},{"k":24,"t":1.235,"a":0},{"k":24,"t":1.255,"a":0.045},{"k":24,"t":1.275,"a":0},{"k":24,"t":1.32,"a":0},{"k":24,"t":1.34,"a":0.045},{"k":24,"t":1.36,"a":0},{"k":24,"t":1.405,"a":0},{"k":24,"t":1.425,"a":0.045},{"k":24,"t":1.445,"a":0},{"k":24,"t":1.49,"a":0},{"k":24,"t":1.51,"a":0.045},{"k":24,"t":1.53,"a":0},{"k":24,"t":1.575,"a":0},{"k":24,"t":1.595,"a":0.045},{"k":24,"t":1.615,"a":0},{"k":24,"t":1.66,"a":0},{"k":24,"t":1.68,"a":0.045},{"k":24,"t":1.7,"a":0},{"k":24,"t":1.745,"a":0},{"k":24,"t":1.765,"a":0.045},{"k":24,"t":1.785,"a":0},{"k":24,"t":1.83,"a":0},{"k":24,"t":1.85,"a":0.045},{"k":24,"t":1.87,"a":0},{"k":24,"t":1.915,"a":0},{"k":24,"t":1.935,"a":0.045},{"k":24,"t":1.955,"a":0},{"k":24,"t":2.0,"a":0},
{"k":25,"t":-0.011,"a":0},{"k":25,"t":-0.002,"a":0.45},{"k":25,"t":0.016,"a":0},{"k":25,"t":0.06,"a":-0.04},{"k":25,"t":0.12,"a":-0.03},{"k":25,"t":0.143,"a":0},{"k":25,"t":0.178,"a":0.18},{"k":25,"t":0.214,"a":0},{"k":25,"t":0.25,"a":-0.05},{"k":25,"t":0.284,"a":0},{"k":25,"t":0.311,"a":0.14},{"k":25,"t":0.337,"a":0},{"k":25,"t":0.4,"a":-0.04},{"k":25,"t":0.445,"a":0},{"k":25,"t":0.488,"a":0.11},{"k":25,"t":0.53,"a":0},{"k":25,"t":0.585,"a":0},{"k":25,"t":0.62,"a":0.07},{"k":25,"t":0.655,"a":0},{"k":25,"t":0.735,"a":0},{"k":25,"t":0.77,"a":0.06},{"k":25,"t":0.8,"a":0},{"k":25,"t":0.88,"a":0},{"k":25,"t":0.91,"a":0.05},{"k":25,"t":0.94,"a":0},{"k":25,"t":1.02,"a":0},{"k":25,"t":1.055,"a":0.05},{"k":25,"t":1.09,"a":0},{"k":25,"t":1.165,"a":0},{"k":25,"t":1.2,"a":0.045},{"k":25,"t":1.235,"a":0},{"k":25,"t":1.31,"a":0},{"k":25,"t":1.345,"a":0.045},{"k":25,"t":1.38,"a":0},{"k":25,"t":1.455,"a":0},{"k":25,"t":1.49,"a":0.04},{"k":25,"t":1.525,"a":0},{"k":25,"t":1.6,"a":0},{"k":25,"t":1.635,"a":0.04},{"k":25,"t":1.67,"a":0},{"k":25,"t":1.745,"a":0},{"k":25,"t":1.78,"a":0.04},{"k":25,"t":1.815,"a":0},{"k":25,"t":1.89,"a":0},{"k":25,"t":1.925,"a":0.04},{"k":25,"t":1.96,"a":0},{"k":25,"t":2.0,"a":0},
{"k":26,"t":-0.011,"a":0},{"k":26,"t":-0.002,"a":0.48},{"k":26,"t":0.016,"a":0},{"k":26,"t":0.06,"a":-0.04},{"k":26,"t":0.12,"a":-0.03},{"k":26,"t":0.143,"a":0},{"k":26,"t":0.178,"a":0.2},{"k":26,"t":0.214,"a":0},{"k":26,"t":0.25,"a":-0.05},{"k":26,"t":0.284,"a":0},{"k":26,"t":0.311,"a":0.18},{"k":26,"t":0.337,"a":0},{"k":26,"t":0.4,"a":-0.04},{"k":26,"t":0.445,"a":0},{"k":26,"t":0.488,"a":0.12},{"k":26,"t":0.53,"a":0},{"k":26,"t":0.585,"a":0},{"k":26,"t":0.62,"a":0.07},{"k":26,"t":0.655,"a":0},{"k":26,"t":0.735,"a":0},{"k":26,"t":0.77,"a":0.06},{"k":26,"t":0.8,"a":0},{"k":26,"t":0.88,"a":0},{"k":26,"t":0.91,"a":0.05},{"k":26,"t":0.94,"a":0},{"k":26,"t":1.02,"a":0},{"k":26,"t":1.055,"a":0.05},{"k":26,"t":1.09,"a":0},{"k":26,"t":1.165,"a":0},{"k":26,"t":1.2,"a":0.045},{"k":26,"t":1.235,"a":0},{"k":26,"t":1.31,"a":0},{"k":26,"t":1.345,"a":0.045},{"k":26,"t":1.38,"a":0},{"k":26,"t":1.455,"a":0},{"k":26,"t":1.49,"a":0.04},{"k":26,"t":1.525,"a":0},{"k":26,"t":1.6,"a":0},{"k":26,"t":1.635,"a":0.04},{"k":26,"t":1.67,"a":0},{"k":26,"t":1.745,"a":0},{"k":26,"t":1.78,"a":0.04},{"k":26,"t":1.815,"a":0},{"k":26,"t":1.89,"a":0},{"k":26,"t":1.925,"a":0.04},{"k":26,"t":1.96,"a":0},{"k":26,"t":2.0,"a":0},
{"k":27,"t":-0.011,"a":0},{"k":27,"t":-0.002,"a":0.75},{"k":27,"t":0.016,"a":0},{"k":27,"t":0.06,"a":-0.1},{"k":27,"t":0.16,"a":-0.1},{"k":27,"t":0.196,"a":0},{"k":27,"t":0.267,"a":0.44},{"k":27,"t":0.31,"a":0},{"k":27,"t":0.38,"a":-0.1},{"k":27,"t":0.44,"a":-0.04},{"k":27,"t":0.47,"a":0},{"k":27,"t":0.54,"a":0.12},{"k":27,"t":0.6,"a":0},{"k":27,"t":0.66,"a":-0.04},{"k":27,"t":0.72,"a":0},{"k":27,"t":0.787,"a":0.08},{"k":27,"t":0.85,"a":0},{"k":27,"t":0.98,"a":0},{"k":27,"t":1.045,"a":0.07},{"k":27,"t":1.105,"a":0},{"k":27,"t":1.265,"a":0},{"k":27,"t":1.32,"a":0.06},{"k":27,"t":1.37,"a":0},{"k":27,"t":1.52,"a":0},{"k":27,"t":1.58,"a":0.05},{"k":27,"t":1.64,"a":0},{"k":27,"t":1.78,"a":0},{"k":27,"t":1.84,"a":0.05},{"k":27,"t":1.9,"a":0},{"k":27,"t":2.0,"a":0},
{"k":28,"t":-0.011,"a":0},{"k":28,"t":-0.002,"a":0.74},{"k":28,"t":0.016,"a":0},{"k":28,"t":0.06,"a":-0.08},{"k":28,"t":0.16,"a":-0.08},{"k":28,"t":0.2,"a":0},{"k":28,"t":0.267,"a":0.42},{"k":28,"t":0.32,"a":0},{"k":28,"t":0.38,"a":-0.1},{"k":28,"t":0.44,"a":-0.04},{"k":28,"t":0.47,"a":0},{"k":28,"t":0.536,"a":0.15},{"k":28,"t":0.6,"a":0},{"k":28,"t":0.66,"a":-0.04},{"k":28,"t":0.72,"a":0},{"k":28,"t":0.788,"a":0.08},{"k":28,"t":0.85,"a":0},{"k":28,"t":0.98,"a":0},{"k":28,"t":1.05,"a":0.07},{"k":28,"t":1.11,"a":0},{"k":28,"t":1.26,"a":0},{"k":28,"t":1.32,"a":0.06},{"k":28,"t":1.38,"a":0},{"k":28,"t":1.52,"a":0},{"k":28,"t":1.58,"a":0.05},{"k":28,"t":1.64,"a":0},{"k":28,"t":1.78,"a":0},{"k":28,"t":1.84,"a":0.05},{"k":28,"t":1.9,"a":0},{"k":28,"t":2.0,"a":0}
]},
"layer":[
{"data":{"name":"tr"},"mark":{"type":"rule","color":"#a3a3a3","strokeWidth":1},
 "encoding":{"x":{"field":"k","type":"quantitative","scale":{"domain":[0.143,28.893],"nice":false,"zero":false},"axis":{"values":[1,6,11,16,21,26],"grid":false,"domain":false,"ticks":true,"tickSize":11,"tickColor":"#8c8c8c","labels":false,"title":"High-cut filter @ 60 Hz","titleFontSize":47,"titleFontWeight":"normal","titleColor":"black","titleBaseline":"alphabetic","titleY":82,"titleX":405,"titleAlign":"center"}}}},
{"data":{"name":"tr"},"mark":{"type":"rule","color":"black","strokeWidth":1,"strokeDash":[2,2]},
 "encoding":{"x":{"field":"k","type":"quantitative","scale":{"domain":[0.143,28.893],"nice":false,"zero":false},"axis":{"values":[1,6,11,16,21,26],"grid":false,"domain":false,"ticks":true,"tickSize":11,"tickColor":"#8c8c8c","labels":false,"title":"High-cut filter @ 60 Hz","titleFontSize":47,"titleFontWeight":"normal","titleColor":"black","titleBaseline":"alphabetic","titleY":82,"titleX":405,"titleAlign":"center"}},
  "y":{"datum":-0.0874,"type":"quantitative","scale":{"domain":[-0.0874,2],"reverse":true,"nice":false,"zero":false},"axis":{"values":[0,0.4,0.8,1.2,1.6,2],"grid":true,"gridColor":"#6e6e6e","gridWidth":1,"domain":false,"ticks":true,"tickSize":10,"tickColor":"#8c8c8c","labelExpr":"datum.value == 0 ? '0' : (datum.value == 2 ? '2' : '')","labelFontSize":46,"labelAngle":270,"labelAlign":"center","labelBaseline":"alphabetic","labelPadding":4,"labelColor":"black","labelOverlap":false,"labelBound":false,"labelFlush":false,"title":"Time (s)","titleFontSize":46,"titleFontWeight":"normal","titleColor":"black","titleAngle":270,"titleAlign":"center","titleBaseline":"alphabetic","titleX":-72,"titleY":353}},
  "y2":{"datum":0}}},
{"data":{"name":"w"},"transform":[{"calculate":"datum.k + datum.a","as":"xw"}],
 "mark":{"type":"area","orient":"horizontal","interpolate":"monotone","filled":false,"stroke":"#6a6a6a","strokeWidth":1},
 "encoding":{"x":{"field":"xw","type":"quantitative","stack":null,"scale":{"domain":[0.143,28.893],"nice":false,"zero":false},"axis":{"values":[1,6,11,16,21,26],"grid":false,"domain":false,"ticks":true,"tickSize":11,"tickColor":"#8c8c8c","labels":false,"title":"High-cut filter @ 60 Hz","titleFontSize":47,"titleFontWeight":"normal","titleColor":"black","titleBaseline":"alphabetic","titleY":82,"titleX":405,"titleAlign":"center"}},
  "x2":{"field":"xw"},
  "y":{"field":"t","type":"quantitative","scale":{"domain":[-0.0874,2],"reverse":true,"nice":false,"zero":false},"axis":{"values":[0,0.4,0.8,1.2,1.6,2],"grid":true,"gridColor":"#6e6e6e","gridWidth":1,"domain":false,"ticks":true,"tickSize":10,"tickColor":"#8c8c8c","labelExpr":"datum.value == 0 ? '0' : (datum.value == 2 ? '2' : '')","labelFontSize":46,"labelAngle":270,"labelAlign":"center","labelBaseline":"alphabetic","labelPadding":4,"labelColor":"black","labelOverlap":false,"labelBound":false,"labelFlush":false,"title":"Time (s)","titleFontSize":46,"titleFontWeight":"normal","titleColor":"black","titleAngle":270,"titleAlign":"center","titleBaseline":"alphabetic","titleX":-72,"titleY":353}},
  "detail":{"field":"k","type":"nominal"}}},
{"data":{"name":"w"},"transform":[{"calculate":"datum.k + max(datum.a, 0)","as":"xp"}],
 "mark":{"type":"area","orient":"horizontal","interpolate":"monotone","color":"black","strokeWidth":0},
 "encoding":{"x":{"field":"xp","type":"quantitative","stack":null,"scale":{"domain":[0.143,28.893],"nice":false,"zero":false},"axis":{"values":[1,6,11,16,21,26],"grid":false,"domain":false,"ticks":true,"tickSize":11,"tickColor":"#8c8c8c","labels":false,"title":"High-cut filter @ 60 Hz","titleFontSize":47,"titleFontWeight":"normal","titleColor":"black","titleBaseline":"alphabetic","titleY":82,"titleX":405,"titleAlign":"center"}},
  "x2":{"field":"k"},
  "y":{"field":"t","type":"quantitative","scale":{"domain":[-0.0874,2],"reverse":true,"nice":false,"zero":false},"axis":{"values":[0,0.4,0.8,1.2,1.6,2],"grid":true,"gridColor":"#6e6e6e","gridWidth":1,"domain":false,"ticks":true,"tickSize":10,"tickColor":"#8c8c8c","labelExpr":"datum.value == 0 ? '0' : (datum.value == 2 ? '2' : '')","labelFontSize":46,"labelAngle":270,"labelAlign":"center","labelBaseline":"alphabetic","labelPadding":4,"labelColor":"black","labelOverlap":false,"labelBound":false,"labelFlush":false,"title":"Time (s)","titleFontSize":46,"titleFontWeight":"normal","titleColor":"black","titleAngle":270,"titleAlign":"center","titleBaseline":"alphabetic","titleX":-72,"titleY":353}},
  "detail":{"field":"k","type":"nominal"}}}
]
}
